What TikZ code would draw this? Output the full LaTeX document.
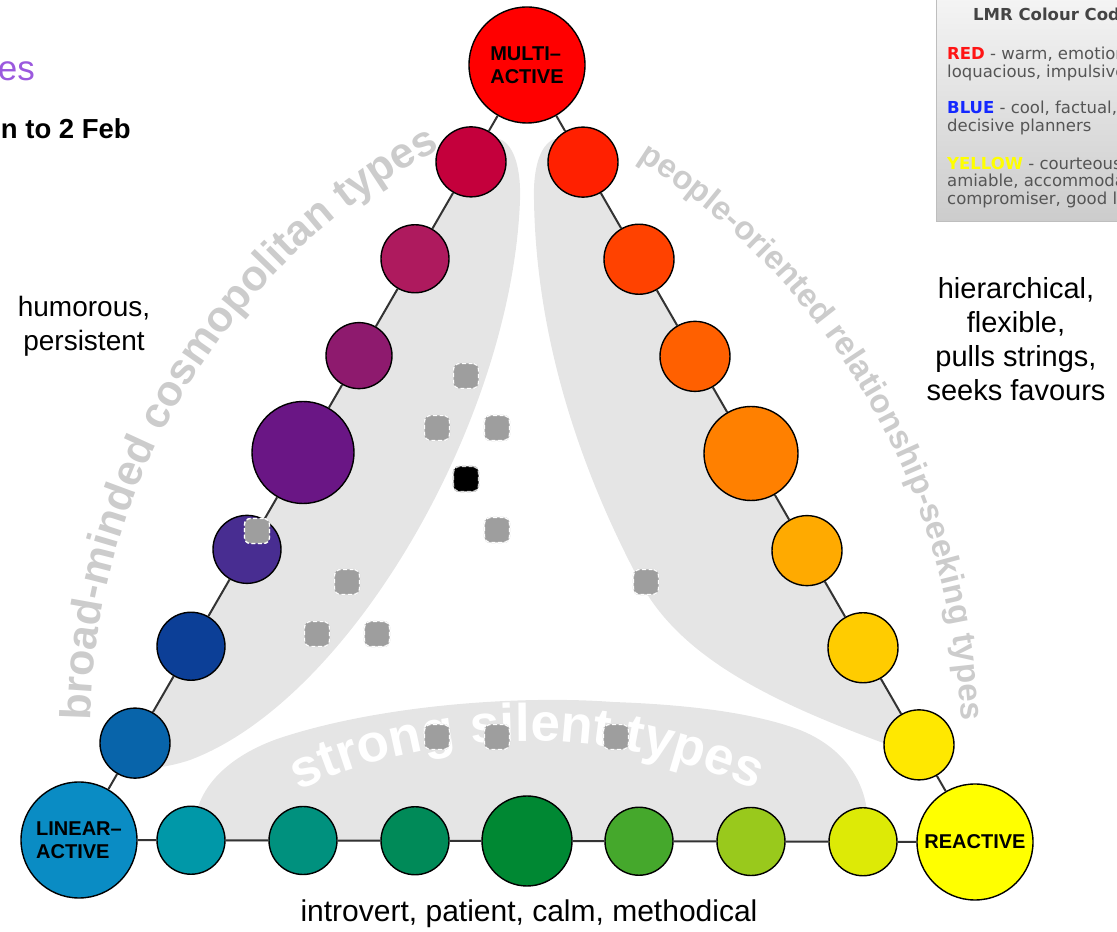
\documentclass[tikz,border=0pt]{standalone}
\usepackage{fontspec}
\setmainfont{Liberation Sans}
\newfontfamily\legendfont{DejaVu Sans}
\usetikzlibrary{calc,decorations.text}
\definecolor{band}{RGB}{229,229,229}
\definecolor{curvegray}{RGB}{204,204,204}
\definecolor{edgecol}{RGB}{51,51,51}
\definecolor{dotfill}{RGB}{158,158,158}
\definecolor{dotedge}{RGB}{175,175,175}
\definecolor{titlepurple}{RGB}{155,89,222}
\definecolor{legtop}{RGB}{246,246,246}
\definecolor{legbot}{RGB}{204,204,204}
\definecolor{legedge}{RGB}{190,190,190}
\definecolor{legtext}{RGB}{85,85,85}
\definecolor{legtitle}{RGB}{68,68,68}
\definecolor{legred}{RGB}{255,20,20}
\definecolor{legblue}{RGB}{20,40,255}
\definecolor{legyellow}{RGB}{255,255,0}
\definecolor{cornerred}{RGB}{255,0,0}
\definecolor{cornerblue}{RGB}{10,140,196}
\definecolor{corneryellow}{RGB}{255,255,0}
\definecolor{lc1}{RGB}{8,100,170}
\definecolor{lc2}{RGB}{12,63,151}
\definecolor{lc3}{RGB}{72,45,145}
\definecolor{lc4}{RGB}{106,22,133}
\definecolor{lc5}{RGB}{142,26,110}
\definecolor{lc6}{RGB}{174,26,94}
\definecolor{lc7}{RGB}{196,0,60}
\definecolor{rc1}{RGB}{255,32,0}
\definecolor{rc2}{RGB}{255,66,0}
\definecolor{rc3}{RGB}{255,96,0}
\definecolor{rc4}{RGB}{255,128,0}
\definecolor{rc5}{RGB}{255,170,0}
\definecolor{rc6}{RGB}{255,204,0}
\definecolor{rc7}{RGB}{255,232,0}
\definecolor{bc1}{RGB}{0,152,168}
\definecolor{bc2}{RGB}{0,145,126}
\definecolor{bc3}{RGB}{0,138,88}
\definecolor{bc4}{RGB}{0,136,51}
\definecolor{bc5}{RGB}{69,168,44}
\definecolor{bc6}{RGB}{153,201,28}
\definecolor{bc7}{RGB}{221,234,6}
\begin{document}
\begin{tikzpicture}[x=1pt,y=1pt,
  ball/.style={circle,draw=black,line width=1.4pt,inner sep=0pt},
  corner/.style={circle,draw=black,line width=1.4pt,inner sep=0pt,minimum size=116pt,
     font=\bfseries\fontsize{20}{23.5}\selectfont,align=left},
  edge/.style={draw=edgecol,line width=2pt},
  dotbox/.style={rectangle,rounded corners=6pt,minimum size=25pt,inner sep=0pt,fill=dotfill,
     preaction={draw=dotedge,line width=1.3pt},draw=white,line width=1.3pt,dash pattern=on 4pt off 2.5pt},
  blackbox/.style={dotbox,fill=black,preaction={draw=gray!70,line width=1.3pt},draw=gray!30},
  plain/.style={font=\fontsize{28}{34}\selectfont,align=center,inner sep=0pt},
  legtxt/.style={font=\legendfont\fontsize{16.5}{17.5}\selectfont,text=legtext,align=left,inner sep=0pt}
]
\useasboundingbox (0,0) rectangle (1117,932);
\clip (0,0) rectangle (1117,932);

% grey bands
\fill[band] (122,167) -- (478,782) .. controls (495,807) and (522,792) .. (520,732)
  .. controls (512,512) and (350,232) .. (190,172) .. controls (160,162) and (135,162) .. (122,167) -- cycle;
\fill[band] (922,182) -- (576,782) .. controls (559,807) and (532,792) .. (534,732)
  .. controls (536,602) and (575,472) .. (640,350) .. controls (680,275) and (770,232) .. (870,194)
  .. controls (895,184) and (915,180) .. (922,182) -- cycle;
\fill[band] (195,90) .. controls (188,142) and (230,177) .. (280,194)
  .. controls (380,227) and (520,237) .. (613,230) .. controls (700,227) and (760,217) .. (800,202)
  .. controls (855,180) and (875,132) .. (865,90) -- cycle;

% curved texts
\path[decorate,decoration={text along path,text align=center,
  text={|\color{curvegray}\fontsize{43}{43}\selectfont\bfseries|broad-minded cosmopolitan types}}]
  ($(751,201)+(193.6:660)$) arc[start angle=193.6,end angle=103.6,radius=660];
\path[decorate,decoration={text along path,text align=center,
  text={|\color{curvegray}\fontsize{33}{33}\selectfont\bfseries|people-oriented relationship-seeking types}}]
  ($(264.5,183.4)+(75:697)$) arc[start angle=75,end angle=-15,radius=697];
\path[decorate,decoration={text along path,text align=center,
  text={|\color{white}\fontsize{53}{53}\selectfont\bfseries|strong silent types}}]
  ($(527,-363)+(130:554)$) arc[start angle=130,end angle=50,radius=554];

% corner nodes
\node[corner,fill=cornerred] (multi) at (527,867) {MULTI--\\ACTIVE};
\node[corner,fill=cornerblue] (lin) at (79,92) {LINEAR--\\ACTIVE};
\node[corner,fill=corneryellow] (react) at (975,90) {REACTIVE};

% edge circles
\foreach \k/\d in {1/70,2/68,3/68,4/102,5/66,6/68,7/70}
  \node[ball,fill=lc\k,minimum size=\d pt] (l\k) at ($(lin)!\k/8!(multi)$) {};
\foreach \k/\d in {1/70,2/70,3/70,4/94,5/70,6/70,7/70}
  \node[ball,fill=rc\k,minimum size=\d pt] (r\k) at ($(multi)!\k/8!(react)$) {};
\foreach \k/\d in {1/68,2/68,3/68,4/90,5/68,6/68,7/68}
  \node[ball,fill=bc\k,minimum size=\d pt] (b\k) at ($(lin)!\k/8!(react)$) {};

% connectors
\foreach \a/\b in {lin/l1,l1/l2,l2/l3,l3/l4,l4/l5,l5/l6,l6/l7,l7/multi,
  multi/r1,r1/r2,r2/r3,r3/r4,r4/r5,r5/r6,r6/r7,r7/react,
  lin/b1,b1/b2,b2/b3,b3/b4,b4/b5,b5/b6,b6/b7,b7/react}
  \draw[edge] (\a) -- (\b);

% grey markers
\node[dotbox] (d1) at (466,556) {};
\node[dotbox] (d2) at (437,504) {};
\node[dotbox] (d3) at (497,504) {};
\node[blackbox] (d4) at (466,453) {};
\node[dotbox] (d5) at (497,402) {};
\node[dotbox] (d6) at (257,401) {};
\node[dotbox] (d7) at (347,350) {};
\node[dotbox] (d8) at (646,350) {};
\node[dotbox] (d9) at (317,298) {};
\node[dotbox] (d10) at (377,298) {};
\node[dotbox] (d11) at (437,195) {};
\node[dotbox] (d12) at (497,195) {};
\node[dotbox] (d13) at (616,195) {};

% labels
\node[anchor=base east,inner sep=0pt,text=titlepurple,font=\fontsize{35}{35}\selectfont] (ttl) at (35,851) {es};
\node[anchor=base east,inner sep=0pt,font=\bfseries\fontsize{27.5}{27.5}\selectfont] (dates) at (131,793) {n to 2 Feb};
\node[plain,anchor=north] (hum) at (84,636) {humorous,\\persistent};
\node[plain,anchor=north,font=\fontsize{29}{34}\selectfont] (hier) at (1016,655) {hierarchical,\\flexible,\\pulls strings,\\seeks favours};
\node[plain,anchor=base,font=\fontsize{30}{34}\selectfont] (intro) at (529,10) {introvert, patient, calm, methodical};

% legend
\shade[top color=legtop,bottom color=legbot,draw=legedge] (936,711) rectangle (1130,945);
\node[anchor=base west,inner sep=0pt,text=legtitle,font=\legendfont\bfseries\fontsize{16.5}{17}\selectfont] (legt) at (973,911) {LMR Colour Code};
\node[legtxt,anchor=north west] (legr) at (947,885) {\textbf{\color{legred}RED} - warm, emotional,\\loquacious, impulsive};
\node[legtxt,anchor=north west] (legb) at (947,831) {\textbf{\color{legblue}BLUE} - cool, factual,\\decisive planners};
\node[legtxt,anchor=north west] (legy) at (947,775) {\textbf{\color{legyellow}YELLOW} - courteous,\\amiable, accommodating,\\compromiser, good listener};
\end{tikzpicture}
\end{document}
